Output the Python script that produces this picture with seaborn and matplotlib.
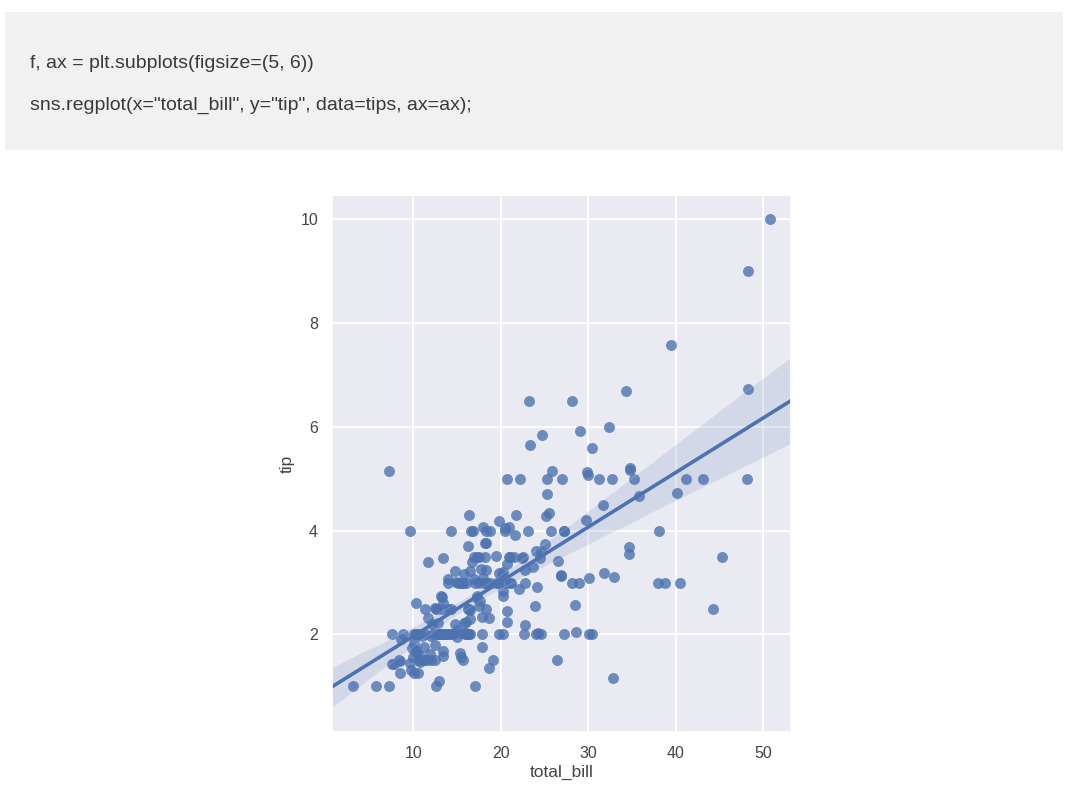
import pandas as pd
import matplotlib.pyplot as plt
import seaborn as sns
from matplotlib.patches import Rectangle

# tips data
total_bill = [16.99, 10.34, 21.01, 23.68, 24.59, 25.29, 8.77, 26.88, 15.04, 14.78,
              10.27, 35.26, 15.42, 18.43, 14.83, 21.58, 10.33, 16.29, 16.97, 20.65,
              17.92, 20.29, 15.77, 39.42, 19.82, 17.81, 13.37, 12.69, 21.70, 19.65,
              9.55, 18.35, 15.06, 20.69, 17.78, 24.06, 16.31, 16.93, 18.69, 31.27,
              16.04, 17.46, 13.94, 9.68, 30.40, 18.29, 22.23, 32.40, 28.55, 18.04,
              12.54, 10.29, 34.81, 9.94, 25.56, 19.49, 38.01, 26.41, 11.24, 48.27,
              20.29, 13.81, 11.02, 18.29, 17.59, 20.08, 16.45, 3.07, 20.23, 15.01,
              12.02, 17.07, 26.86, 25.28, 14.73, 10.51, 17.92, 27.20, 22.76, 17.29,
              19.44, 16.66, 10.07, 32.68, 15.98, 34.83, 13.03, 18.28, 24.71, 21.16,
              28.97, 22.49, 5.75, 16.32, 22.75, 40.17, 27.28, 12.03, 21.01, 12.46,
              11.35, 15.38, 44.30, 22.42, 20.92, 15.36, 20.49, 25.21, 18.24, 14.31,
              14.00, 7.25, 38.07, 23.95, 25.71, 17.31, 29.93, 10.65, 12.43, 24.08,
              11.69, 13.42, 14.26, 15.95, 12.48, 29.80, 8.52, 14.52, 11.38, 22.82,
              19.08, 20.27, 11.17, 12.26, 18.26, 8.51, 10.33, 14.15, 16.00, 13.16,
              17.47, 34.30, 41.19, 27.05, 16.43, 8.35, 18.64, 11.87, 9.78, 7.51,
              14.07, 13.13, 17.26, 24.55, 19.77, 29.85, 48.17, 25.00, 13.39, 16.49,
              21.50, 12.66, 16.21, 13.81, 17.51, 24.52, 20.76, 31.71, 10.59, 10.63,
              50.81, 15.81, 7.25, 31.85, 16.82, 32.90, 17.89, 14.48, 9.60, 34.63,
              34.65, 23.33, 45.35, 23.17, 40.55, 20.69, 20.90, 30.46, 18.15, 23.10,
              15.69, 19.81, 28.44, 15.48, 16.58, 7.56, 10.34, 43.11, 13.00, 13.51,
              18.71, 12.74, 13.00, 16.40, 20.53, 16.47, 26.59, 38.73, 24.27, 12.76,
              30.06, 25.89, 48.33, 13.27, 28.17, 12.90, 28.15, 11.59, 7.74, 30.14,
              12.16, 13.42, 8.58, 15.98, 13.42, 16.27, 10.09, 20.45, 13.28, 22.12,
              24.01, 15.69, 11.61, 10.77, 15.53, 10.07, 12.60, 32.83, 35.83, 29.03,
              27.18, 22.67, 17.82, 18.78]
tip = [1.01, 1.66, 3.50, 3.31, 3.61, 4.71, 2.00, 3.12, 1.96, 3.23,
       1.71, 5.00, 1.57, 3.00, 3.02, 3.92, 1.67, 3.71, 3.50, 3.35,
       4.08, 2.75, 2.23, 7.58, 3.18, 2.34, 2.00, 2.00, 4.30, 3.00,
       1.45, 2.50, 3.00, 2.45, 3.27, 3.60, 2.00, 3.07, 2.31, 5.00,
       2.24, 2.54, 3.06, 1.32, 5.60, 3.00, 5.00, 6.00, 2.05, 3.00,
       2.50, 2.60, 5.20, 1.56, 4.34, 3.51, 3.00, 1.50, 1.76, 6.73,
       3.21, 2.00, 1.98, 3.76, 2.64, 3.15, 2.47, 1.00, 2.01, 2.09,
       1.97, 3.00, 3.14, 5.00, 2.20, 1.25, 3.08, 4.00, 3.00, 2.71,
       3.00, 3.40, 1.83, 5.00, 2.03, 5.17, 2.00, 4.00, 5.85, 3.00,
       3.00, 3.50, 1.00, 4.30, 3.25, 4.73, 4.00, 1.50, 3.00, 1.50,
       2.50, 3.00, 2.50, 3.48, 4.08, 1.64, 4.06, 4.29, 3.76, 4.00,
       3.00, 1.00, 4.00, 2.55, 4.00, 3.50, 5.07, 1.50, 1.80, 2.92,
       2.31, 1.68, 2.50, 2.00, 2.52, 4.20, 1.48, 2.00, 2.00, 2.18,
       1.50, 2.83, 1.50, 2.00, 3.25, 1.25, 2.00, 2.00, 2.00, 2.75,
       3.50, 6.70, 5.00, 5.00, 2.30, 1.50, 1.36, 1.63, 1.73, 2.00,
       2.50, 2.00, 2.74, 2.00, 2.00, 5.14, 5.00, 3.75, 2.61, 2.00,
       3.50, 2.50, 2.00, 2.00, 3.00, 3.48, 2.24, 4.50, 1.61, 2.00,
       10.00, 3.16, 5.15, 3.18, 4.00, 3.11, 2.00, 2.00, 4.00, 3.55,
       3.68, 5.65, 3.50, 6.50, 3.00, 5.00, 3.50, 2.00, 3.50, 4.00,
       1.50, 4.19, 2.56, 2.02, 4.00, 1.44, 2.00, 5.00, 2.00, 2.00,
       4.00, 2.01, 2.00, 2.50, 4.00, 3.23, 3.41, 3.00, 2.03, 2.23,
       2.00, 5.16, 9.00, 2.50, 6.50, 1.10, 3.00, 1.50, 1.44, 3.09,
       2.20, 3.48, 1.92, 3.00, 1.58, 2.50, 2.00, 3.00, 2.72, 2.88,
       2.00, 3.00, 3.39, 1.47, 3.00, 1.25, 1.00, 1.17, 4.67, 5.92,
       2.00, 2.00, 1.75, 3.00]

code_lines = ['f, ax = plt.subplots(figsize=(5, 6))',
              'sns.regplot(x="total_bill", y="tip", data=tips, ax=ax);']

tips = pd.DataFrame({'total_bill': total_bill, 'tip': tip})

sns.set_theme(style="darkgrid", rc={'axes.facecolor': '#EAEAF2', 'grid.color': 'white',
                                    'grid.linewidth': 1.3})
plt.rcParams['font.family'] = ['Liberation Sans', 'DejaVu Sans']

fig = plt.figure(figsize=(10.8, 8.02), dpi=100)

# notebook code cell
fig.patches.append(Rectangle((5 / 1080, 1 - 150 / 802), 1058 / 1080, 138 / 802,
                             transform=fig.transFigure, facecolor='#F1F1F1',
                             edgecolor='none', zorder=0))
fig.text(30 / 1080, 1 - 63 / 802, code_lines[0], fontsize=14, color='#3a3a3a', va='center')
fig.text(30 / 1080, 1 - 105 / 802, code_lines[1], fontsize=14, color='#3a3a3a', va='center')

ax = fig.add_axes([332 / 1080, 70 / 802, 459 / 1080, 537 / 802])
sns.regplot(x="total_bill", y="tip", data=tips, ax=ax, truncate=False,
            color='#4C72B0', scatter_kws={'s': 62, 'alpha': 0.8, 'linewidths': 0},
            line_kws={'linewidth': 2.6})

ax.set_yticks([2, 4, 6, 8, 10])
ax.set_xticks([10, 20, 30, 40, 50])
ax.tick_params(labelsize=11.5, labelcolor='#444444', pad=4)
ax.set_xlabel('total_bill', fontsize=12.5, color='#444444', labelpad=3)
ax.set_ylabel('tip', fontsize=12.5, color='#444444')

plt.savefig('out.png', dpi=100)
